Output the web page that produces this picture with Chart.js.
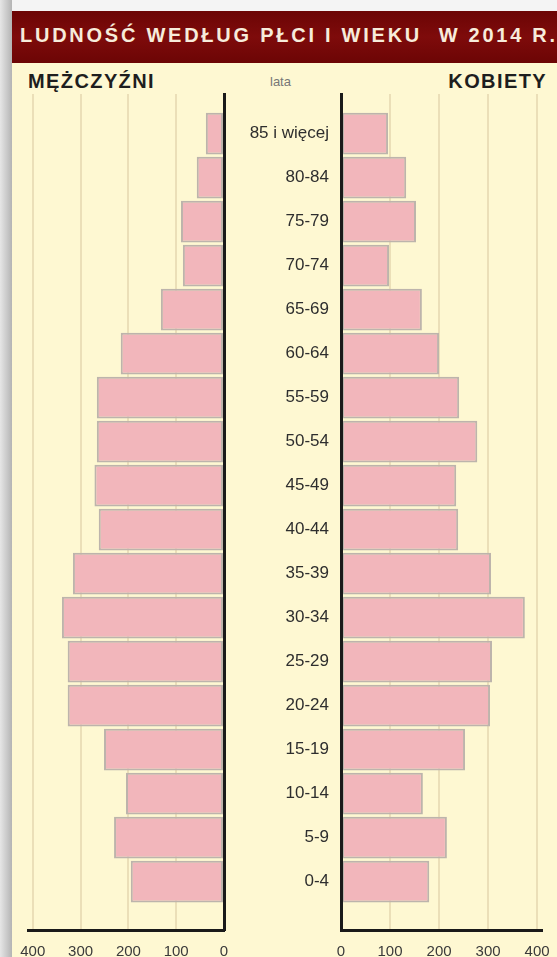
<!DOCTYPE html>
<html>
<head>
<meta charset="utf-8">
<script src="https://cdn.jsdelivr.net/npm/chart.js@4.4.0/dist/chart.umd.min.js"></script>
<style>
    body { margin: 0; width: 557px; height: 957px; overflow: hidden; background: #f4f4f4; font-family: "Liberation Sans", Arial, sans-serif; }
    #cien { position: absolute; left: 0; top: 0; width: 12px; height: 957px; background: linear-gradient(to right, #e6e6e6, #b4b4b4); }
    #panel { position: absolute; left: 12px; top: 11px; width: 545px; height: 946px; background: #fef8d2; }
    #tytul { position: absolute; left: 12px; top: 11px; width: 545px; height: 52px; background: linear-gradient(to bottom, #6c0505, #7e0b0b 50%, #6c0505); }
    #tytul span { position: absolute; left: 8px; top: 13px; color: #f7ecdb; font-weight: bold; font-size: 20px; letter-spacing: 2.75px; white-space: pre; }
    .naglowek { position: absolute; top: 70px; font-weight: bold; font-size: 20px; color: #1e1e1e; letter-spacing: 1.4px; }
    #lata { position: absolute; left: 270px; top: 74px; font-size: 13px; color: #777; }
    canvas { position: absolute; top: 0; }
</style>
</head>
<body>
<div id="cien"></div>
<div id="panel"></div>
<div id="tytul"><span>LUDNOŚĆ WEDŁUG PŁCI I WIEKU  W 2014 R.</span></div>
<div class="naglowek" style="left:28px">MĘŻCZYŹNI</div>
<div class="naglowek" style="right:10px">KOBIETY</div>
<div id="lata">lata</div>
<canvas id="grafMezczyzni" width="240" height="957" style="left:0px"></canvas>
<canvas id="grafKobiety" width="327" height="957" style="left:230px"></canvas>

<script>
// grupy wieku od góry
var kategorie = ["85 i więcej", "80-84", "75-79", "70-74", "65-69", "60-64", "55-59", "50-54", "45-49",
    "40-44", "35-39", "30-34", "25-29", "20-24", "15-19", "10-14", "5-9", "0-4"];
var mezczyzni = [38, 57, 90, 86, 132, 216, 266, 266, 271, 262, 316, 339, 327, 327, 251, 205, 230, 195];
var kobiety = [96, 133, 153, 98, 165, 200, 241, 278, 235, 239, 306, 375, 308, 304, 253, 167, 216, 180];
var osX = [0, 100, 200, 300, 400];

var rozowy = "#f2b6bb";
var szary = "#bdb4ac";
var czarny = "#1a1a1a";

function punkty(wartosci) {
    return wartosci.map(function (v, i) { return { x: v, y: i }; });
}

function opcjeOsiY(pozycja, szerokosc, etykiety) {
    return {
        type: "linear",
        position: pozycja,
        reverse: true,
        offset: false,
        min: -0.9,
        max: kategorie.length - 1 + 1.1,
        afterBuildTicks: function (s) { s.ticks = kategorie.map(function (k, i) { return { value: i }; }); },
        afterFit: function (s) { s.width = szerokosc; s.paddingTop = 0; s.paddingBottom = 0; },
        grid: { display: false },
        border: { color: czarny, width: 3, z: 2 },
        ticks: {
            display: etykiety,
            padding: 4,
            color: "#2e2e2e",
            font: { size: 17, family: "'Liberation Sans', Arial, sans-serif" },
            callback: function (v) { return kategorie[v]; }
        }
    };
}

function opcjeOsiX(odwroc) {
    return {
        type: "linear",
        reverse: odwroc,
        min: 0,
        max: 410,
        afterBuildTicks: function (s) { s.ticks = osX.map(function (v) { return { value: v }; }); },
        afterFit: function (s) { s.height = 27; s.paddingLeft = 0; s.paddingRight = 0; },
        grid: { color: "#ebdfb8", lineWidth: 2, drawTicks: false },
        border: { color: czarny, width: 3, z: 2 },
        ticks: {
            padding: 13,
            color: "#3a3a3a",
            font: { size: 15, family: "'Liberation Sans', Arial, sans-serif" }
        }
    };
}

function dibujar(id, dane, odwroc, pozycjaY, szerokoscY, etykiety, padding) {
    var ctx = document.getElementById(id).getContext("2d");
    return new Chart(ctx, {
        type: "bar",
        data: {
            datasets: [{
                data: punkty(dane),
                backgroundColor: rozowy,
                borderColor: szary,
                borderWidth: 2,
                borderSkipped: false,
                barPercentage: 1,
                categoryPercentage: 0.95
            }]
        },
        options: {
            indexAxis: "y",
            responsive: false,
            animation: false,
            devicePixelRatio: 1,
            layout: { padding: padding },
            plugins: { legend: { display: false }, tooltip: { enabled: false } },
            scales: {
                x: opcjeOsiX(odwroc),
                y: opcjeOsiY(pozycjaY, szerokoscY, etykiety)
            }
        }
    });
}

dibujar("grafMezczyzni", mezczyzni, true, "right", 0, false, { left: 28, right: 16, top: 94, bottom: 0 });
dibujar("grafKobiety", kobiety, false, "left", 111, true, { left: 0, right: 15, top: 94, bottom: 0 });
</script>
</body>
</html>
